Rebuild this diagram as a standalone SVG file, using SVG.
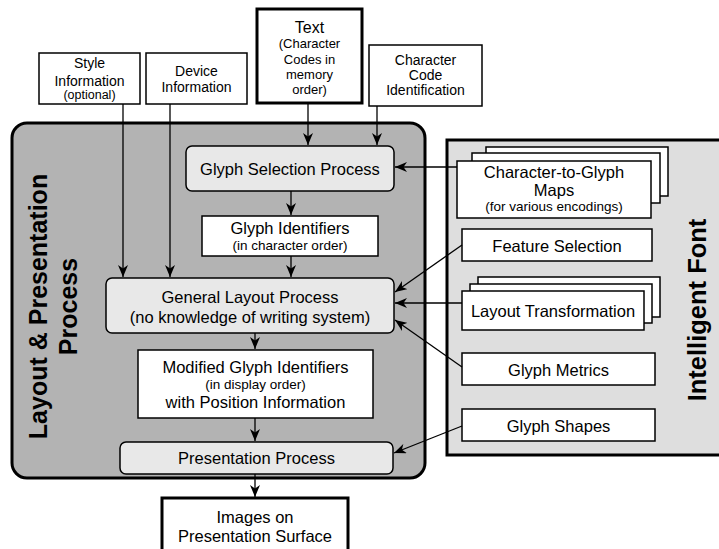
<svg xmlns="http://www.w3.org/2000/svg" width="719" height="549" viewBox="0 0 719 549">
<defs>
<marker id="ah" markerUnits="userSpaceOnUse" viewBox="0 0 12 10" markerWidth="12" markerHeight="10" refX="12" refY="5" orient="auto">
<path d="M0,0 L12,5 L0,10 L3.5,5 z" fill="#000"/>
</marker>
<style>
text{font-family:"Liberation Sans",Arial,sans-serif;fill:#000;text-anchor:middle}
.box{fill:#fff;stroke:#000;stroke-width:1.5}
.thick{fill:#fff;stroke:#000;stroke-width:3}
.proc{fill:#e8e8e8;stroke:#000;stroke-width:1.5}
.f14{font-size:14px}
.f165{font-size:16.5px}
.f135{font-size:13.5px}
.f125{font-size:12.5px}
.f13{font-size:13px}
.f16{font-size:16px}
.big{font-size:25px;font-weight:bold}
.con line{stroke:#000;stroke-width:1.3;marker-end:url(#ah)}
</style>
</defs>
<rect width="719" height="549" fill="#fff"/>

<g id="layout-presentation">
<rect x="12" y="123" width="413" height="355" rx="15" fill="#b3b3b3" stroke="#000" stroke-width="3"/>
<text class="big" transform="translate(47,306.5) rotate(-90)">Layout &amp; Presentation</text>
<text class="big" transform="translate(77,306.5) rotate(-90)">Process</text>
</g>

<g id="intelligent-font">
<rect x="447" y="140" width="290" height="315" fill="#dedede" stroke="#000" stroke-width="3"/>
<text class="big" style="font-size:25.5px" transform="translate(706,310) rotate(-90)">Intelligent Font</text>
</g>

<g id="style-info">
<rect class="box" x="39" y="53" width="101" height="51"/>
<text class="f14" x="89.5" y="68">Style</text>
<text class="f14" x="89.5" y="85.5">Information</text>
<text class="f125" x="89.5" y="99">(optional)</text>
</g>

<g id="device-info">
<rect class="box" x="146" y="53" width="101" height="51"/>
<text class="f14" x="196.5" y="76">Device</text>
<text class="f14" x="196.5" y="92">Information</text>
</g>

<g id="text-input">
<rect class="thick" x="257" y="9" width="105" height="94"/>
<text class="f16" x="309.5" y="33">Text</text>
<text class="f13" x="309.5" y="48">(Character</text>
<text class="f13" x="309.5" y="63.5">Codes in</text>
<text class="f13" x="309.5" y="79">memory</text>
<text class="f13" x="309.5" y="94">order)</text>
</g>

<g id="char-code-id">
<rect class="box" x="369" y="45" width="113" height="61"/>
<text class="f14" x="425.5" y="65">Character</text>
<text class="f14" x="425.5" y="80">Code</text>
<text class="f14" x="425.5" y="95">Identification</text>
</g>

<g id="glyph-selection">
<rect class="proc" x="186" y="146" width="208" height="45" rx="6"/>
<text class="f165" x="290" y="175">Glyph Selection Process</text>
</g>

<g id="glyph-identifiers">
<rect class="box" x="202" y="216" width="176" height="40"/>
<text class="f165" x="290" y="234">Glyph Identifiers</text>
<text class="f135" x="290" y="250">(in character order)</text>
</g>

<g id="general-layout">
<rect class="proc" x="106" y="278" width="288" height="55" rx="6"/>
<text class="f165" x="250" y="303">General Layout Process</text>
<text class="f165" x="250" y="322.5">(no knowledge of writing system)</text>
</g>

<g id="modified-glyph-ids">
<rect class="box" x="138" y="350" width="235" height="68"/>
<text class="f165" x="255.5" y="373">Modified Glyph Identifiers</text>
<text class="f135" x="255.5" y="389">(in display order)</text>
<text class="f165" x="255.5" y="408">with Position Information</text>
</g>

<g id="presentation-process">
<rect class="proc" x="120" y="442" width="273" height="32" rx="6"/>
<text class="f165" x="256.5" y="464">Presentation Process</text>
</g>

<g id="images-surface">
<rect class="thick" x="162" y="498" width="186" height="70"/>
<text class="f165" x="255" y="522.5">Images on</text>
<text class="f165" x="255" y="541.5">Presentation Surface</text>
</g>

<g id="char-glyph-maps">
<rect class="box" x="486" y="147" width="182" height="49"/>
<rect class="box" x="472" y="153" width="188" height="50"/>
<rect class="box" x="457" y="161" width="194" height="57"/>
<text class="f165" x="554" y="178">Character-to-Glyph</text>
<text class="f165" x="554" y="196">Maps</text>
<text class="f135" x="554" y="211">(for various encodings)</text>
</g>

<g id="feature-selection">
<rect class="box" x="462" y="229" width="190" height="32"/>
<text class="f165" x="557" y="251.5">Feature Selection</text>
</g>

<g id="layout-transformation">
<rect class="box" x="478" y="277" width="182" height="40"/>
<rect class="box" x="470" y="284" width="182" height="39"/>
<rect class="box" x="462" y="291" width="182" height="39"/>
<text class="f165" x="553" y="317">Layout Transformation</text>
</g>

<g id="glyph-metrics">
<rect class="box" x="462" y="353" width="193" height="32"/>
<text class="f165" x="558.5" y="375.5">Glyph Metrics</text>
</g>

<g id="glyph-shapes">
<rect class="box" x="462" y="409" width="193" height="32"/>
<text class="f165" x="558.5" y="431.5">Glyph Shapes</text>
</g>

<g id="connectors" class="con">
<line x1="123" y1="104" x2="123" y2="277"/>
<line x1="170" y1="104" x2="170" y2="277"/>
<line x1="308" y1="103" x2="308" y2="145"/>
<line x1="377" y1="106" x2="377" y2="145"/>
<line x1="291" y1="191" x2="291" y2="215"/>
<line x1="291" y1="256" x2="291" y2="277"/>
<line x1="255" y1="333" x2="255" y2="349"/>
<line x1="255" y1="418" x2="255" y2="441"/>
<line x1="255" y1="474" x2="255" y2="497"/>
<line x1="457" y1="167" x2="395" y2="167"/>
<line x1="462" y1="245" x2="395" y2="292"/>
<line x1="462" y1="303" x2="395" y2="303"/>
<line x1="462" y1="367" x2="395" y2="320"/>
<line x1="462" y1="426" x2="394" y2="453"/>
</g>
</svg>
